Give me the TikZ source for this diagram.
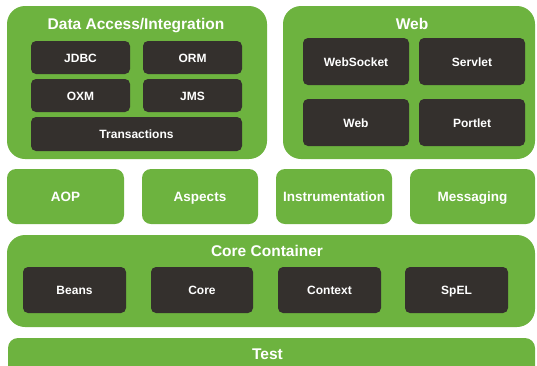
\documentclass[tikz,border=0pt]{standalone}
\usepackage{fontspec}
\setmainfont{Liberation Sans}
\definecolor{springgreen}{HTML}{6DB33F}
\definecolor{springdark}{HTML}{34302D}
\begin{document}
\begin{tikzpicture}[x=1pt,y=-1pt]
			\tikzstyle{big} = [fill=springgreen, rounded corners=18pt, inner sep=0pt]
			\tikzstyle{mid} = [fill=springgreen, rounded corners=9pt, inner sep=0pt, minimum height=55pt, text=white, text height=0.95em, text depth=0pt, font=\fontsize{13.5}{16}\selectfont\bfseries]
			\tikzstyle{box} = [fill=springdark, rounded corners=5pt, inner sep=0pt, text=white, text height=0.95em, text depth=0pt, font=\fontsize{12}{14}\selectfont\bfseries]
			\tikzstyle{title} = [text=white, inner sep=0pt, text height=0.95em, text depth=0pt, font=\fontsize{15.5}{18}\selectfont\bfseries]
			\clip (0,0) rectangle (537,365);
			\node[big, minimum width=260pt, minimum height=153pt] (data) at (137,82.5) {};
			\node[title] (data-title) at (136,25) {Data Access/Integration};
			\node[box, minimum width=99pt, minimum height=33pt] (jdbc) at (80.5,57.5) {JDBC};
			\node[box, minimum width=99pt, minimum height=33pt] (orm) at (192.5,57.5) {ORM};
			\node[box, minimum width=99pt, minimum height=33pt] (oxm) at (80.5,95.5) {OXM};
			\node[box, minimum width=99pt, minimum height=33pt] (jms) at (192.5,95.5) {JMS};
			\node[box, minimum width=211pt, minimum height=34pt] (transactions) at (136.5,134) {Transactions};
			\node[big, minimum width=252pt, minimum height=153pt] (web) at (409,82.5) {};
			\node[title] (web-title) at (412,25) {Web};
			\node[box, minimum width=106pt, minimum height=47pt] (websocket) at (356,61.5) {WebSocket};
			\node[box, minimum width=106pt, minimum height=47pt] (servlet) at (472,61.5) {Servlet};
			\node[box, minimum width=106pt, minimum height=47pt] (web-module) at (356,122.5) {Web};
			\node[box, minimum width=106pt, minimum height=47pt] (portlet) at (472,122.5) {Portlet};
			\node[mid, minimum width=117pt] (aop) at (65.5,196.5) {AOP};
			\node[mid, minimum width=116pt] (aspects) at (200,196.5) {Aspects};
			\node[mid, minimum width=116pt] (instrumentation) at (334,196.5) {Instrumentation};
			\node[mid, minimum width=125pt] (messaging) at (472.5,196.5) {Messaging};
			\node[big, minimum width=528pt, minimum height=92pt] (core-container) at (271,281) {};
			\node[title] (core-title) at (267,252) {Core Container};
			\node[box, minimum width=103pt, minimum height=46pt] (beans) at (74.5,290) {Beans};
			\node[box, minimum width=102pt, minimum height=46pt] (core) at (202,290) {Core};
			\node[box, minimum width=103pt, minimum height=46pt] (context) at (329.5,290) {Context};
			\node[box, minimum width=103pt, minimum height=46pt] (spel) at (456.5,290) {SpEL};
			\node[big, rounded corners=10pt, minimum width=527pt, minimum height=60pt] (test) at (271.5,368) {};
			\node[title] (test-title) at (267.5,355) {Test};
\end{tikzpicture}
\end{document}
